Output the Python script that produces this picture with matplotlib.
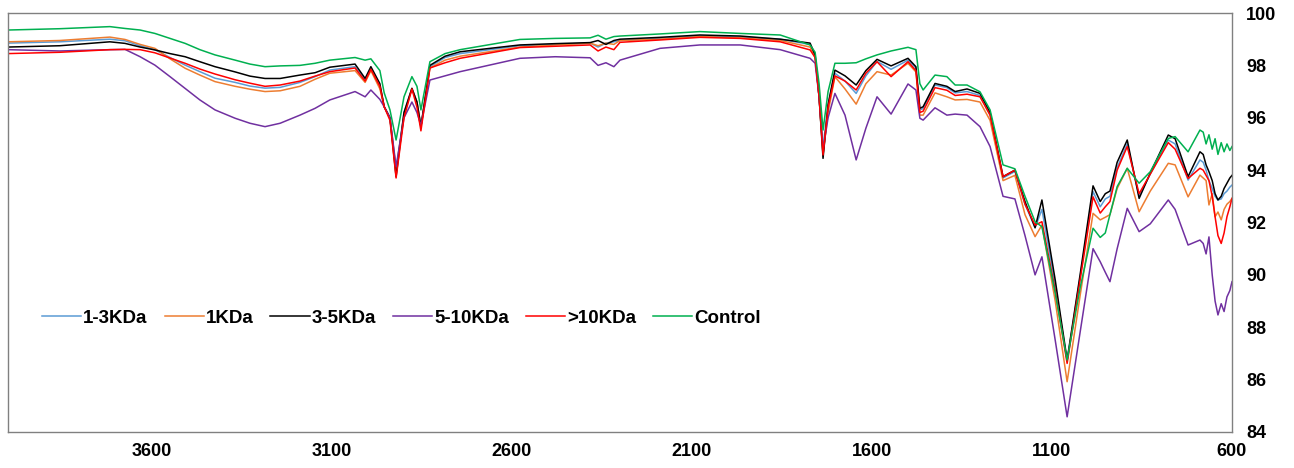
import matplotlib
matplotlib.use("Agg")
import matplotlib.pyplot as plt

plt.rcParams['font.family'] = ['Liberation Sans', 'DejaVu Sans']

# wavenumber (cm-1) sample points
wn = [4000, 3856, 3717, 3675, 3633, 3592, 3550, 3508, 3467, 3425,
      3369, 3328, 3286, 3244, 3189, 3147, 3106, 3036, 3008, 2992,
      2967, 2955, 2939, 2922, 2900, 2878, 2864, 2853, 2828, 2786,
      2744, 2578, 2480, 2383, 2361, 2339, 2317, 2300, 2189, 2078,
      1966, 1855, 1772, 1758, 1747, 1736, 1722, 1703, 1675, 1644,
      1617, 1586, 1547, 1500, 1478, 1467, 1458, 1425, 1392, 1369,
      1336, 1300, 1272, 1236, 1203, 1175, 1147, 1128, 1091, 1058,
      1022, 986, 966, 952, 939, 919, 891, 858, 827, 777,
      758, 722, 689, 680, 672, 664, 655, 647, 639, 630,
      622, 614, 606, 600]

t_1_3 = [98.85, 98.90, 99.00, 98.94, 98.75, 98.60, 98.30, 98.01, 97.76, 97.51,
         97.35, 97.21, 97.13, 97.16, 97.35, 97.57, 97.82, 97.95, 97.45, 97.85,
         97.20, 96.42, 96.00, 94.00, 96.20, 97.12, 96.60, 95.66, 97.95, 98.30,
         98.45, 98.75, 98.80, 98.85, 98.70, 98.85, 98.90, 98.95, 99.03, 99.12,
         99.08, 99.00, 98.80, 98.35, 96.80, 94.90, 96.50, 97.70, 97.40, 96.93,
         97.60, 98.15, 97.85, 98.20, 97.90, 96.30, 96.35, 97.25, 97.15, 96.95,
         97.00, 96.85, 96.10, 93.70, 93.95, 92.70, 91.80, 92.50, 89.60, 86.70,
         89.90, 93.18, 92.60, 92.90, 93.00, 94.10, 95.00, 93.00, 93.85, 95.15,
         95.00, 93.62, 94.39, 94.30, 94.00, 93.60, 93.30, 93.00, 92.86, 92.90,
         93.10, 93.20, 93.35, 93.43]

t_1 = [98.90, 98.95, 99.08, 98.99, 98.80, 98.65, 98.25, 97.89, 97.63, 97.38,
       97.20, 97.09, 97.00, 97.03, 97.20, 97.47, 97.70, 97.80, 97.35, 97.80,
       97.10, 96.42, 96.00, 94.00, 96.10, 97.12, 96.60, 95.66, 97.90, 98.20,
       98.35, 98.70, 98.78, 98.85, 98.75, 98.85, 98.80, 98.95, 99.00, 99.10,
       99.05, 98.95, 98.70, 98.30, 96.80, 94.60, 96.20, 97.57, 97.10, 96.52,
       97.30, 97.76, 97.63, 98.08, 97.75, 96.10, 96.10, 96.95, 96.80, 96.68,
       96.70, 96.60, 95.90, 93.60, 93.80, 92.30, 91.46, 91.90, 89.00, 85.92,
       89.20, 92.35, 92.10, 92.20, 92.30, 93.30, 94.07, 92.41, 93.20, 94.26,
       94.20, 92.98, 93.81, 93.70, 93.60, 92.67, 93.10, 92.22, 92.40, 92.10,
       92.50, 92.70, 92.80, 92.92]

t_3_5 = [98.70, 98.75, 98.90, 98.84, 98.70, 98.59, 98.45, 98.33, 98.14, 97.95,
         97.75, 97.59, 97.50, 97.50, 97.63, 97.72, 97.93, 98.05, 97.50, 97.95,
         97.30, 96.42, 96.00, 93.75, 96.20, 97.12, 96.60, 95.66, 98.00, 98.35,
         98.52, 98.78, 98.83, 98.87, 98.95, 98.80, 98.95, 99.00, 99.07, 99.16,
         99.12, 99.00, 98.85, 98.40, 96.80, 94.45, 96.50, 97.82, 97.60, 97.25,
         97.80, 98.23, 97.98, 98.27, 97.95, 96.36, 96.42, 97.31, 97.20, 97.00,
         97.10, 96.93, 96.20, 93.75, 94.00, 92.80, 91.80, 92.86, 89.80, 86.75,
         90.00, 93.40, 92.80, 93.10, 93.20, 94.30, 95.15, 92.92, 93.89, 95.34,
         95.20, 93.75, 94.70, 94.60, 94.20, 93.94, 93.60, 93.10, 92.86, 93.00,
         93.30, 93.50, 93.70, 93.80]

t_5_10 = [98.60, 98.55, 98.60, 98.61, 98.33, 98.01, 97.57, 97.12, 96.68, 96.30,
          95.98, 95.79, 95.66, 95.79, 96.10, 96.36, 96.68, 97.00, 96.80, 97.06,
          96.70, 96.42, 96.00, 94.13, 96.00, 96.60, 96.20, 95.70, 97.44, 97.60,
          97.76, 98.27, 98.33, 98.29, 98.00, 98.10, 97.95, 98.20, 98.65, 98.78,
          98.78, 98.60, 98.27, 98.08, 96.80, 94.77, 96.00, 96.93, 96.10, 94.39,
          95.60, 96.80, 96.14, 97.29, 97.06, 95.98, 95.91, 96.38, 96.10, 96.14,
          96.10, 95.66, 94.90, 93.00, 92.90, 91.50, 90.00, 90.69, 87.50, 84.58,
          87.80, 91.00, 90.50, 90.10, 89.74, 91.00, 92.54, 91.65, 91.95, 92.86,
          92.50, 91.14, 91.33, 91.20, 90.80, 91.45, 90.00, 89.00, 88.47, 88.90,
          88.60, 89.16, 89.40, 89.74]

t_10 = [98.45, 98.50, 98.60, 98.61, 98.60, 98.48, 98.28, 98.08, 97.86, 97.67,
        97.45, 97.32, 97.20, 97.25, 97.40, 97.59, 97.76, 97.90, 97.40, 97.85,
        97.20, 96.42, 95.90, 93.70, 96.00, 97.10, 96.40, 95.50, 97.90, 98.10,
        98.27, 98.68, 98.73, 98.78, 98.55, 98.70, 98.60, 98.88, 98.97, 99.07,
        99.03, 98.90, 98.59, 98.30, 96.80, 94.58, 96.40, 97.60, 97.40, 97.06,
        97.70, 98.14, 97.57, 98.14, 97.80, 96.20, 96.25, 97.15, 97.05, 96.85,
        96.90, 96.80, 96.10, 93.75, 94.00, 92.70, 91.90, 92.03, 89.40, 86.62,
        89.80, 92.98, 92.36, 92.60, 92.80, 94.00, 94.90, 93.10, 93.85, 95.05,
        94.80, 93.68, 94.07, 94.00, 93.80, 93.60, 93.00, 92.22, 91.50, 91.20,
        91.60, 92.22, 92.60, 92.92]

control = [99.35, 99.40, 99.48, 99.41, 99.35, 99.22, 99.03, 98.84, 98.60, 98.40,
           98.20, 98.05, 97.95, 97.98, 98.00, 98.08, 98.20, 98.30, 98.20, 98.25,
           97.80, 96.95, 96.30, 95.15, 96.80, 97.57, 97.20, 96.30, 98.14, 98.45,
           98.60, 98.99, 99.03, 99.05, 99.15, 99.00, 99.10, 99.12, 99.20, 99.29,
           99.22, 99.16, 98.78, 98.50, 97.30, 95.53, 97.00, 98.08, 98.08, 98.10,
           98.25, 98.40, 98.55, 98.69, 98.60, 97.30, 97.06, 97.63, 97.57, 97.25,
           97.25, 96.99, 96.30, 94.20, 94.05, 93.00, 92.03, 91.84, 89.30, 86.75,
           89.50, 91.78, 91.43, 91.60, 92.30, 93.37, 94.07, 93.50, 93.94, 95.21,
           95.28, 94.70, 95.53, 95.45, 95.00, 95.35, 94.80, 95.20, 94.60, 95.05,
           94.70, 95.00, 94.75, 94.90]

labels = ["1-3KDa", "1KDa", "3-5KDa", "5-10KDa", ">10KDa", "Control"]
colors = ['#5B9BD5', '#ED7D31', '#000000', '#7030A0', '#FF0000', '#00B050']
series = [t_1_3, t_1, t_3_5, t_5_10, t_10, control]

fig = plt.figure(figsize=(12.94, 4.68), dpi=100)
ax = fig.add_axes([8 / 1294, 36 / 468, 1224 / 1294, 419 / 468])

for s, c, lab in zip(series, colors, labels):
    ax.plot(wn, s, color=c, linewidth=1.1, label=lab)

ax.set_xlim(4000, 600)
ax.set_ylim(84, 100)
ax.set_xticks([3600, 3100, 2600, 2100, 1600, 1100, 600])
ax.set_yticks(range(84, 101, 2))
ax.yaxis.tick_right()
ax.tick_params(axis='both', length=0, labelsize=13)
ax.tick_params(axis='x', pad=8)
ax.tick_params(axis='y', pad=10)
for lbl in ax.get_xticklabels() + ax.get_yticklabels():
    lbl.set_fontweight('bold')
for sp in ax.spines.values():
    sp.set_color('#808080')
    sp.set_linewidth(1)

ax.legend(ncol=6, loc='center left', bbox_to_anchor=(0.014, 0.272), frameon=False,
          handlelength=2.1, handletextpad=0.1, columnspacing=0.9,
          prop={'size': 13.5, 'weight': 'bold'})

fig.savefig('out.png', dpi=100)
